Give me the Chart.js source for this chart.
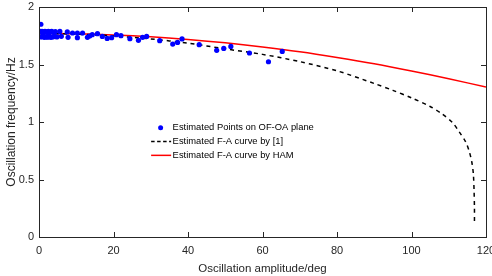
<!DOCTYPE html>
<html><head><meta charset="utf-8">
<script src="https://cdn.jsdelivr.net/npm/chart.js@4/dist/chart.umd.min.js"></script>
<style>html,body{margin:0;padding:0;background:#fff}#wrap{width:492px;height:276px}</style>
</head><body><div id="wrap"><canvas id="c" width="492" height="276"></canvas></div>
<script>
const xTicks = [0, 20, 40, 60, 80, 100, 120];
const yTicks = [0, 0.5, 1, 1.5, 2];
const yTickLabels = ["0", "0.5", "1", "1.5", "2"];
const seriesNames = ["Estimated Points on OF-OA plane", "Estimated F-A curve by [1]", "Estimated F-A curve by HAM"];

const pointsAmp  = [0.5, 0.3, 0.8, 1.2, 1.6, 2.0, 2.5, 3.0, 3.4, 3.9, 4.4, 0.4, 0.9, 1.4, 1.9, 2.3, 2.8, 3.2, 3.7, 4.1, 4.8, 1.1, 2.6, 5.6, 6.0, 7.6, 7.8, 9.0, 10.3, 10.3, 11.7, 13.0, 13.6, 14.3, 15.7, 17.0, 18.3, 19.5, 20.8, 22.0, 24.4, 26.7, 27.8, 28.9, 32.4, 35.9, 37.2, 38.4, 43.0, 47.7, 49.6, 51.5, 56.5, 61.6, 65.3];
const pointsFreq = [1.85, 1.788, 1.788, 1.785, 1.788, 1.783, 1.788, 1.785, 1.788, 1.78, 1.786, 1.739, 1.742, 1.736, 1.74, 1.738, 1.742, 1.736, 1.74, 1.744, 1.74, 1.762, 1.758, 1.788, 1.745, 1.783, 1.736, 1.774, 1.774, 1.733, 1.774, 1.736, 1.748, 1.759, 1.768, 1.744, 1.727, 1.733, 1.759, 1.751, 1.725, 1.71, 1.736, 1.744, 1.707, 1.678, 1.692, 1.722, 1.672, 1.623, 1.64, 1.657, 1.6, 1.524, 1.614];

const refAmp  = [0, 10, 20, 30, 40, 50, 60, 70, 80, 90, 95, 100, 105, 108, 111, 113, 114.5, 115.5, 116.2, 116.6, 116.8, 116.9, 116.9];
const refFreq = [1.770, 1.764, 1.748, 1.722, 1.686, 1.636, 1.588, 1.525, 1.445, 1.335, 1.275, 1.210, 1.135, 1.075, 0.995, 0.905, 0.83, 0.745, 0.65, 0.55, 0.40, 0.25, 0.13];

const hamAmp  = [0, 10, 20, 30, 40, 50, 60, 70, 80, 90, 100, 110, 120];
const hamFreq = [1.770, 1.767, 1.757, 1.741, 1.718, 1.689, 1.653, 1.611, 1.561, 1.506, 1.443, 1.376, 1.304];

const zip = (a, b) => a.map((v, i) => ({x: v, y: b[i]}));
const AX = '#262626';
const FONT = 'Liberation Sans, Arial, sans-serif';

const boxPlugin = {
  id: 'box',
  afterDraw(chart) {
    const {ctx, chartArea: a, scales} = chart;
    ctx.save();
    ctx.strokeStyle = AX; ctx.lineWidth = 1;
    ctx.strokeRect(Math.round(a.left) + 0.5, Math.round(a.top) + 0.5, Math.round(a.right - a.left), Math.round(a.bottom - a.top));
    const L = 5;
    ctx.beginPath();
    xTicks.forEach(v => {
      const px = Math.round(scales.x.getPixelForValue(v)) + 0.5;
      ctx.moveTo(px, a.bottom); ctx.lineTo(px, a.bottom - L);
      ctx.moveTo(px, a.top); ctx.lineTo(px, a.top + L);
    });
    yTicks.forEach(v => {
      const py = Math.round(scales.y.getPixelForValue(v)) + 0.5;
      ctx.moveTo(a.left, py); ctx.lineTo(a.left + L, py);
      ctx.moveTo(a.right, py); ctx.lineTo(a.right - L, py);
    });
    ctx.stroke();
    // legend
    const lx = scales.x.getPixelForValue(30.1);
    const ty = scales.y.getPixelForValue(0.95);
    const rows = 13.8;
    ctx.font = '9.4px ' + FONT;
    ctx.textBaseline = 'middle';
    seriesNames.forEach((name, i) => {
      const y = ty + i * rows;
      if (i === 0) {
        ctx.beginPath(); ctx.fillStyle = '#0000ff';
        ctx.arc(lx + 9.5, y, 2.5, 0, Math.PI * 2); ctx.fill();
      } else {
        ctx.beginPath();
        ctx.strokeStyle = i === 1 ? '#000' : '#ff0000';
        ctx.lineWidth = 1.5;
        ctx.setLineDash(i === 1 ? [3.5, 2.5] : []);
        ctx.moveTo(lx, y); ctx.lineTo(lx + 20, y); ctx.stroke();
        ctx.setLineDash([]);
      }
      ctx.fillStyle = '#000';
      ctx.fillText(name, lx + 21.5, y);
    });
    ctx.restore();
  }
};

new Chart(document.getElementById('c'), {
  type: 'scatter',
  data: {
    datasets: [
      {label: seriesNames[2], data: zip(hamAmp, hamFreq), showLine: true, borderColor: '#ff0000', borderWidth: 1.5, pointRadius: 0, fill: false, tension: 0.3, order: 3},
      {label: seriesNames[1], data: zip(refAmp, refFreq), showLine: true, borderColor: '#000', borderWidth: 1.5, borderDash: [4, 4], pointRadius: 0, fill: false, tension: 0.3, order: 2},
      {label: seriesNames[0], data: zip(pointsAmp, pointsFreq), backgroundColor: '#0000ff', borderColor: '#0000ff', pointRadius: 2.6, borderWidth: 0, order: 1}
    ]
  },
  options: {
    responsive: false, animation: false,
    layout: {padding: {left: 0, right: 6, top: 7, bottom: 0}},
    plugins: {legend: {display: false}, tooltip: {enabled: false}},
    scales: {
      x: {
        type: 'linear', min: 0, max: 120,
        afterBuildTicks: s => { s.ticks = xTicks.map(v => ({value: v})); },
        afterFit: s => { s.height = 39; s.paddingLeft = 0; s.paddingRight = 0; },
        grid: {display: false, drawTicks: false},
        border: {display: false},
        ticks: {color: AX, font: {family: FONT, size: 11}, padding: 7, maxRotation: 0},
        title: {display: true, text: 'Oscillation amplitude/deg', color: AX, font: {family: FONT, size: 11.5}, padding: {top: 2, bottom: 0}}
      },
      y: {
        type: 'linear', min: 0, max: 2,
        afterBuildTicks: s => { s.ticks = yTicks.map(v => ({value: v})); },
        afterFit: s => { s.width = 39; s.paddingTop = 0; s.paddingBottom = 0; },
        grid: {display: false, drawTicks: false},
        border: {display: false},
        ticks: {color: AX, font: {family: FONT, size: 11}, padding: 5,
          callback: (v) => { const i = yTicks.indexOf(v); return i >= 0 ? yTickLabels[i] : ''; }},
        title: {display: true, text: 'Oscillation frequency/Hz', color: AX, font: {family: FONT, size: 12}, padding: {top: 4, bottom: 2}}
      }
    }
  },
  plugins: [boxPlugin]
});
</script></body></html>
